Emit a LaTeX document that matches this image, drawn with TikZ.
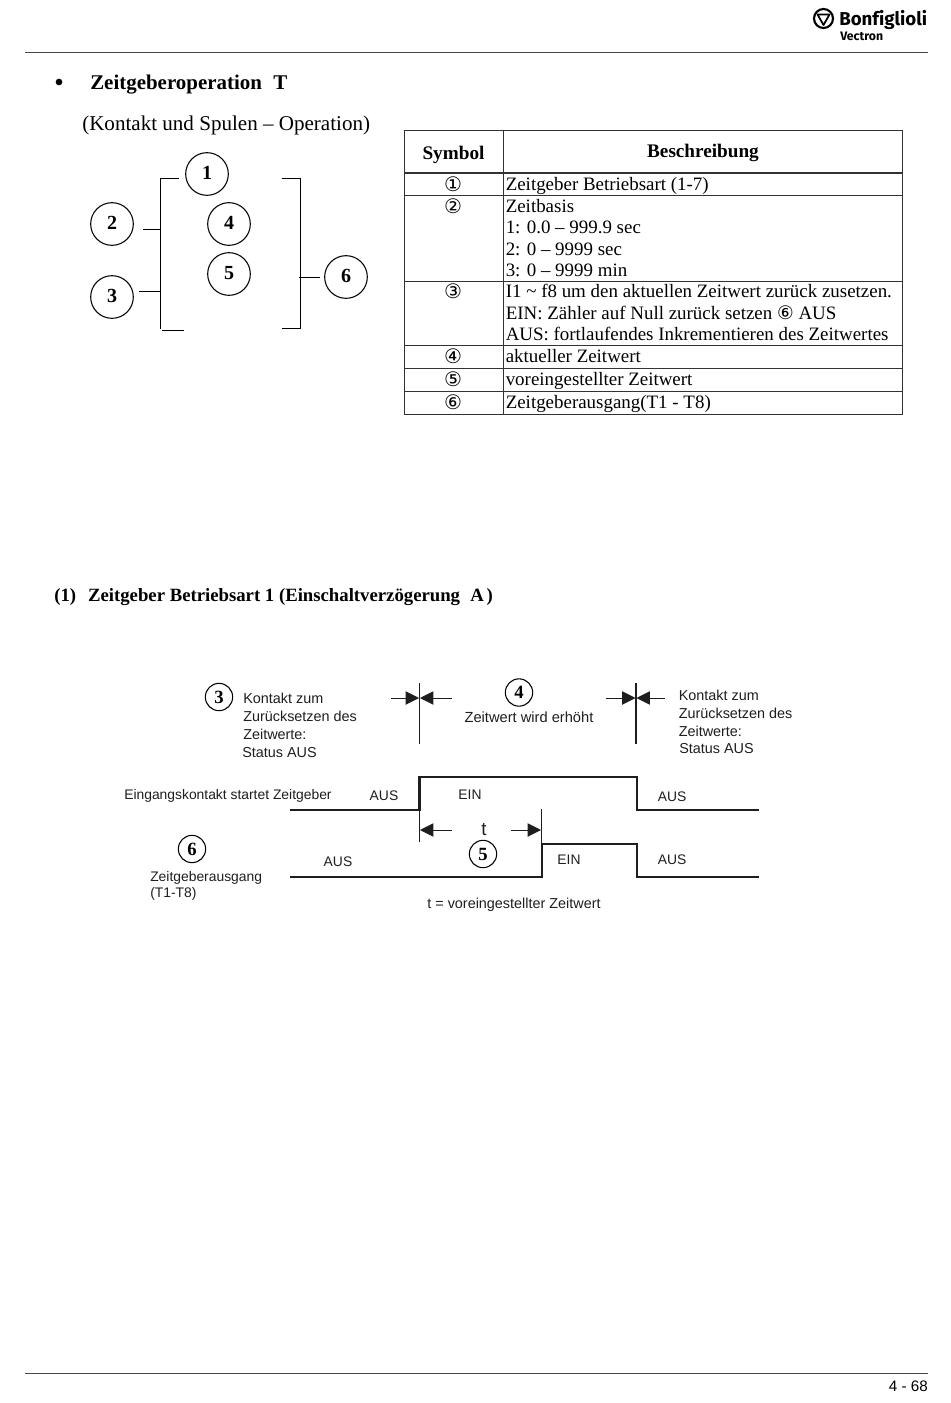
\documentclass[tikz,border=0pt]{standalone}
\usepackage{fontspec}
\setmainfont{Liberation Serif}
\setsansfont{Liberation Sans}
\newfontfamily\symfont{DejaVu Sans}
\newfontfamily\logofont[Ligatures=NoCommon]{Fira Sans}
\usetikzlibrary{arrows.meta}
\definecolor{ruleink}{RGB}{70, 70, 70}
\definecolor{tableink}{RGB}{50, 50, 50}
\definecolor{scanink}{RGB}{30, 30, 30}
\tikzset{
    bodytext/.style={font=\fontsize{14.2}{14.2}\selectfont, anchor=base west, inner sep=0pt},
    headtext/.style={font=\fontsize{14.4}{14.4}\selectfont\bfseries, anchor=base, inner sep=0pt},
    symtext/.style={font=\symfont\fontsize{15}{15}\selectfont, inner sep=0pt},
    bignum/.style={circle, draw, thick, minimum size=32pt, inner sep=0pt, font=\fontsize{15}{15}\selectfont\bfseries},
    smallnum/.style={circle, draw, thick, minimum size=20.5pt, inner sep=0pt, font=\fontsize{14}{14}\selectfont\bfseries},
    scantext/.style={font=\sffamily\fontsize{10.8}{10.8}\selectfont, text=scanink, anchor=base west, inner sep=0pt},
    scanmid/.style={font=\sffamily\fontsize{10.4}{10.4}\selectfont, text=scanink, anchor=base, inner sep=0pt},
    wave/.style={line width=1.8pt, scanink},
    tick/.style={line width=0.8pt, scanink},
    pin/.style={line width=0.7pt, scanink, -{Triangle[length=10pt, width=10pt]}},
    bracket/.style={line width=1pt}
}
\begin{document}
\begin{tikzpicture}[x=0.75pt, y=-0.75pt]
    \useasboundingbox (0,0) rectangle (950,1403);

    % Header and footer
    \draw[ruleink, line width=0.8pt] (25,52.5) -- (928,52.5);
    \draw[ruleink, line width=0.8pt] (25,1373.5) -- (928,1373.5);
    \draw[line width=1.6pt] (823.5,18.5) circle (9.5);
    \draw[line width=1.3pt, line join=round] (817.5,14.5) -- (829.5,14.5) -- (823.5,25) -- cycle;
    \node[font=\logofont\bfseries\fontsize{14}{14}\selectfont, anchor=base west, inner sep=0pt] (logoname) at (839,25) {Bonfiglioli};
    \node[font=\logofont\bfseries\fontsize{9.2}{9.2}\selectfont, anchor=base west, inner sep=0pt] (logosub) at (840,40) {Vectron};
    \node[font=\sffamily\fontsize{11.4}{11.4}\selectfont, anchor=base east, inner sep=0pt] (pageno) at (928,1391) {4 - 68};

    % Headings
    \node[circle, fill=black, inner sep=0pt, minimum size=5pt] (bullet) at (59,82) {};
    \node[bodytext, font=\fontsize{15.7}{15.7}\selectfont\bfseries] (title) at (90,89) {Zeitgeberoperation\hspace{0.3em} T};
    \node[bodytext, font=\fontsize{15.8}{15.8}\selectfont] (subtitle) at (82,130) {(Kontakt und Spulen – Operation)};
    \node[bodytext, font=\fontsize{14.05}{14.05}\selectfont\bfseries] (section) at (54,601) {(1)\hspace{0.39em} Zeitgeber Betriebsart 1 (Einschaltverzögerung\hspace{0.3em} A\hspace{0.15em})};

    % Contact and coil symbol
    \node[bignum] (c1) at (207,174) {\raisebox{2pt}{1}};
    \node[bignum] (c2) at (112,224) {\raisebox{1pt}{2}};
    \node[bignum] (c3) at (112,297) {\raisebox{2pt}{3}};
    \node[bignum] (c4) at (229,224) {\raisebox{1pt}{4}};
    \node[bignum] (c5) at (229,274) {\raisebox{2pt}{5}};
    \node[bignum] (c6) at (346,277) {\raisebox{1pt}{6}};

    \coordinate (lefttop) at (179,178.5);
    \coordinate (leftcorner) at (160.5,178.5);
    \coordinate (leftlow) at (160.5,329);
    \coordinate (leftfoot) at (184,330.5);
    \coordinate (leftfootstart) at (162,330.5);
    \coordinate (righttop) at (281.5,178.5);
    \coordinate (rightcorner) at (300.5,178.5);
    \coordinate (rightlow) at (300.5,328.5);
    \coordinate (rightfoot) at (282,328.5);
    \coordinate (stubtwo) at (143,229.5);
    \coordinate (stubtwoend) at (160.5,229.5);
    \coordinate (stubthree) at (138.5,291.5);
    \coordinate (stubthreeend) at (160.5,291.5);
    \coordinate (stubsix) at (299,277.5);
    \coordinate (stubsixend) at (320,277.5);
    \draw[bracket] (lefttop) -- (leftcorner) -- (leftlow);
    \draw[bracket] (leftfootstart) -- (leftfoot);
    \draw[bracket] (righttop) -- (rightcorner) -- (rightlow) -- (rightfoot);
    \draw[bracket] (stubtwo) -- (stubtwoend);
    \draw[bracket] (stubthree) -- (stubthreeend);
    \draw[bracket] (stubsix) -- (stubsixend);

    % Table grid
    \draw[tableink, line width=0.8pt] (404.5,130.5) rectangle (902.5,414.5);
    \draw[tableink, line width=0.8pt] (503.5,130.5) -- (503.5,414.5);
    \draw[tableink, line width=1.1pt] (404.5,173) -- (902.5,173);
    \foreach \rowy in {195.5,281.5,345.5,368.5,391.5} {
        \draw[tableink, line width=0.8pt] (404.5,\rowy) -- (902.5,\rowy);
    }

    % Table text
    \node[headtext] (symhead) at (453.5,159) {Symbol};
    \node[headtext] (deschead) at (703,157) {Beschreibung};
    \node[symtext] (s1) at (453,184) {①};
    \node[symtext] (s2) at (453,206.5) {②};
    \node[symtext] (s3) at (453,291.5) {③};
    \node[symtext] (s4) at (453,356) {④};
    \node[symtext] (s5) at (453,379) {⑤};
    \node[symtext] (s6) at (453,402) {⑥};
    \node[bodytext] (d1) at (505.5,190.5) {Zeitgeber Betriebsart (1-7)};
    \node[bodytext] (d2a) at (505.5,212) {Zeitbasis};
    \node[bodytext] (d2b) at (505.5,233) {1: 0.0 – 999.9 sec};
    \node[bodytext] (d2c) at (505.5,255) {2: 0 – 9999 sec};
    \node[bodytext] (d2d) at (505.5,276) {3: 0 – 9999 min};
    \node[bodytext] (d3a) at (505.5,297) {I1 \textasciitilde{} f8 um den aktuellen Zeitwert zurück zusetzen.};
    \node[bodytext] (d3b) at (505.5,319) {EIN: Zähler auf Null zurück setzen {\symfont\fontsize{14}{14}\selectfont ⑥} AUS};
    \node[bodytext] (d3c) at (505.5,340) {AUS: fortlaufendes Inkrementieren des Zeitwertes};
    \node[bodytext] (d4) at (505.5,362.5) {aktueller Zeitwert};
    \node[bodytext] (d5) at (505.5,385.5) {voreingestellter Zeitwert};
    \node[bodytext] (d6) at (505.5,408.5) {Zeitgeberausgang(T1 - T8)};

    % Timing labels
    \node[smallnum] (t3) at (219,697) {3};
    \node[smallnum] (t4) at (519,692.5) {4};
    \node[smallnum] (t5) at (483,854) {5};
    \node[smallnum] (t6) at (192,849) {6};
    \node[scantext] (la1) at (243,703) {Kontakt zum};
    \node[scantext] (la2) at (243,721) {Zurücksetzen des};
    \node[scantext] (la3) at (243,739) {Zeitwerte:};
    \node[scantext] (la4) at (242,757) {Status AUS};
    \node[scantext] (lb1) at (678.5,700) {Kontakt zum};
    \node[scantext] (lb2) at (678.5,718) {Zurücksetzen des};
    \node[scantext] (lb3) at (678.5,736) {Zeitwerte:};
    \node[scantext] (lb4) at (679,753) {Status AUS};
    \node[scanmid, font=\sffamily\fontsize{11}{11}\selectfont] (rising) at (529,722) {Zeitwert wird erhöht};
    \node[scantext, font=\sffamily\fontsize{10.4}{10.4}\selectfont] (inlabel) at (124,799) {Eingangskontakt startet Zeitgeber};
    \node[scantext, font=\sffamily\fontsize{10.4}{10.4}\selectfont] (outlabela) at (150,881) {Zeitgeberausgang};
    \node[scantext, font=\sffamily\fontsize{10.4}{10.4}\selectfont] (outlabelb) at (150,897) {(T1-T8)};
    \node[scanmid] (aus1) at (384,800) {AUS};
    \node[scanmid] (ein1) at (470,799) {EIN};
    \node[scanmid] (aus2) at (672,801) {AUS};
    \node[scanmid] (aus3) at (338,866) {AUS};
    \node[scanmid] (ein2) at (569,864) {EIN};
    \node[scanmid] (aus4) at (672,864) {AUS};
    \node[scanmid, font=\sffamily\fontsize{10.8}{10.8}\selectfont] (preset) at (514,908) {t = voreingestellter Zeitwert};
    \node[font=\sffamily\fontsize{14}{14}\selectfont, text=scanink, inner sep=0pt] (tlabel) at (484,830) {t};

    % Signal traces
    \draw[wave] (290,810) -- (419.5,810) -- (419.5,777) -- (637,777) -- (637,810) -- (759,810);
    \draw[wave] (290,877) -- (542,877) -- (542,844) -- (637,844) -- (637,877) -- (759,877);

    % Marks and dimension arrows
    \coordinate (tickatop) at (419.5,683);
    \coordinate (tickalow) at (419.5,744);
    \coordinate (tickbtop) at (636,683);
    \coordinate (tickblow) at (636,744);
    \coordinate (tickctop) at (419.5,810);
    \coordinate (tickclow) at (419.5,842);
    \coordinate (tickdtop) at (541.5,809);
    \coordinate (tickdlow) at (541.5,844);
    \draw[tick] (tickatop) -- (tickalow);
    \draw[tick] (tickbtop) -- (tickblow);
    \draw[tick] (tickctop) -- (tickclow);
    \draw[tick] (tickdtop) -- (tickdlow);
    \coordinate (pinatail) at (391,698);
    \coordinate (pinahead) at (419,698);
    \coordinate (pinbtail) at (452,698);
    \coordinate (pinbhead) at (420,698);
    \coordinate (pinctail) at (606,698);
    \coordinate (pinchead) at (635.5,698);
    \coordinate (pindtail) at (665,698);
    \coordinate (pindhead) at (636.5,698);
    \coordinate (pinetail) at (452,830);
    \coordinate (pinehead) at (420,830);
    \coordinate (pinftail) at (511,830);
    \coordinate (pinfhead) at (541,830);
    \draw[pin] (pinatail) -- (pinahead);
    \draw[pin] (pinbtail) -- (pinbhead);
    \draw[pin] (pinctail) -- (pinchead);
    \draw[pin] (pindtail) -- (pindhead);
    \draw[pin] (pinetail) -- (pinehead);
    \draw[pin] (pinftail) -- (pinfhead);
\end{tikzpicture}
\end{document}
